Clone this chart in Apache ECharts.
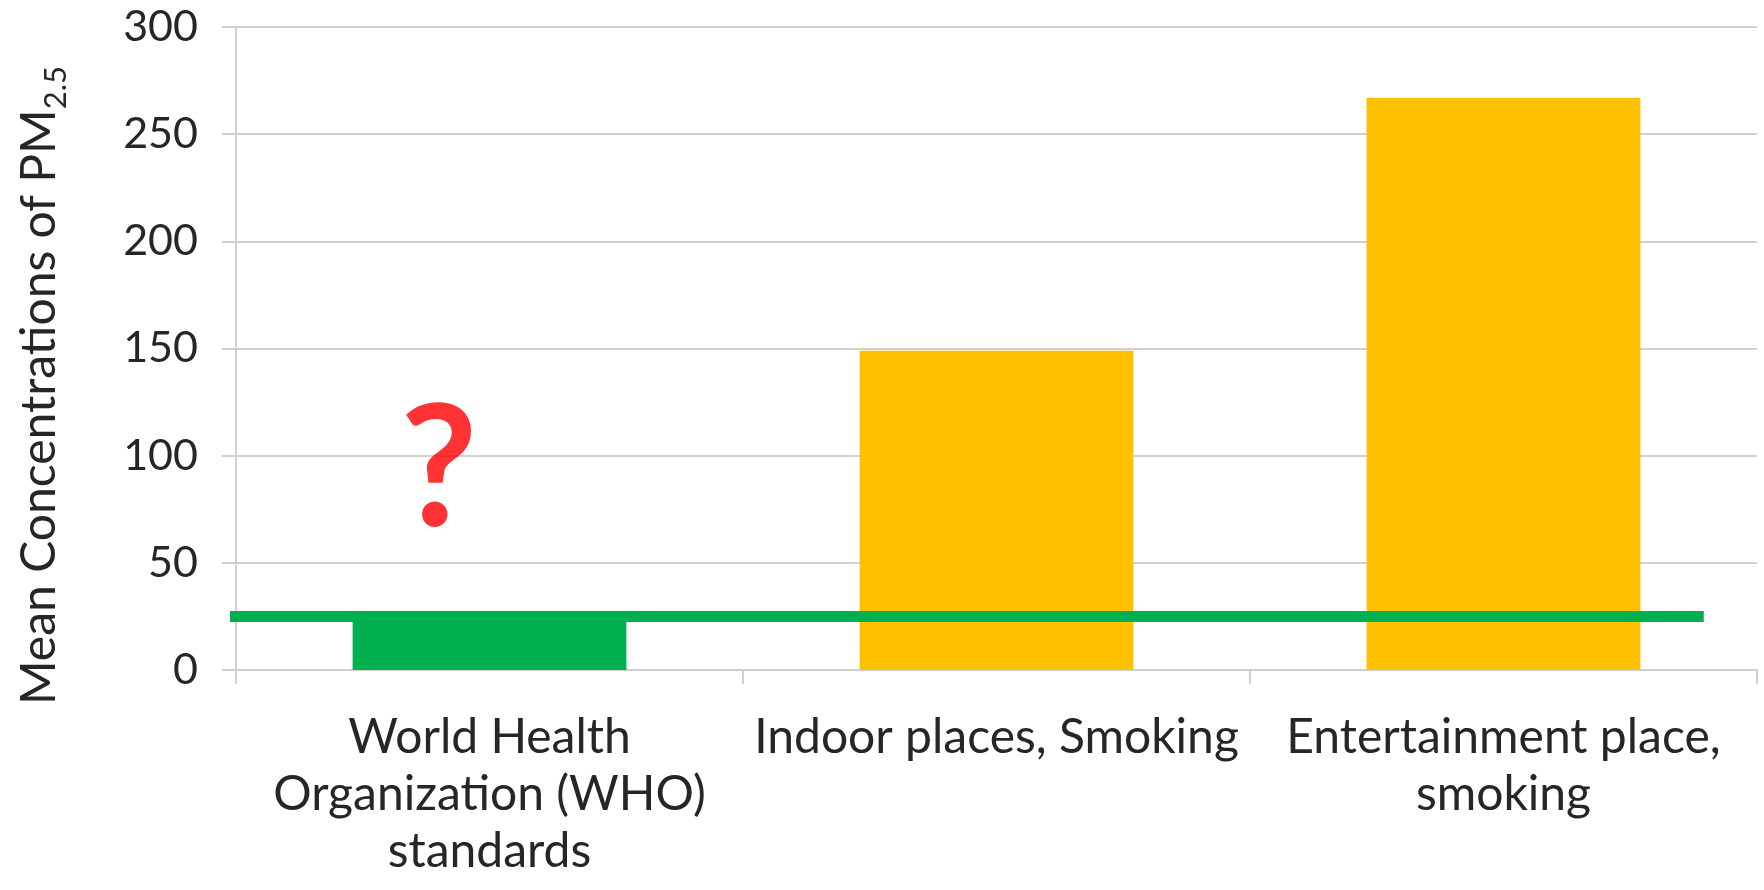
<!DOCTYPE html>
<html>
<head>
<meta charset="utf-8">
<script src="https://cdn.jsdelivr.net/npm/echarts@6/dist/echarts.min.js"></script>
<style>
  html, body { margin: 0; padding: 0; background: #ffffff; }
  #chart { width: 1764px; height: 890px; }
</style>
</head>
<body>
<div id="chart"></div>
<script>
// Mean PM2.5 concentrations by setting, compared with the WHO standard
const categories = [
  'World Health\nOrganization (WHO)\nstandards',
  'Indoor places, Smoking',
  'Entertainment place,\nsmoking'
];
const pm25Values = [25, 149, 267];
const barColors = ['#00B050', '#FFC000', '#FFC000'];

// WHO reference level, drawn as a horizontal line across the chart
const whoLimit = 25;
// horizontal extent of the reference line, in category-width units (0 = first band start)
const whoLineSpan = [-0.085, 2.895];

// value-axis settings
const yMin = 0, yMax = 300, yStep = 50;

// annotation above the WHO bar: [category-width units, value]
const questionMark = { text: '?', at: [0.4, 92.5] };

const FONT = 'Lato';
const TEXT = '#262626';

const chart = echarts.init(document.getElementById('chart'), null, { renderer: 'canvas' });

chart.setOption({
  animation: false,
  backgroundColor: '#ffffff',
  grid: { left: 236, right: 7, top: 27, bottom: 220, containLabel: false },
  xAxis: [
    {
      type: 'category',
      data: categories,
      boundaryGap: true,
      axisLine: { show: true, lineStyle: { color: '#D0D0D0', width: 2 } },
      axisTick: { show: true, length: 14, lineStyle: { color: '#D0D0D0', width: 2 } },
      axisLabel: {
        interval: 0, margin: 39, color: TEXT,
        fontFamily: FONT, fontSize: 48, lineHeight: 57, align: 'center'
      },
      splitLine: { show: false }
    },
    { type: 'value', min: 0, max: 3, show: false }
  ],
  yAxis: {
    type: 'value',
    min: yMin, max: yMax, interval: yStep,
    axisLine: { show: true, lineStyle: { color: '#D0D0D0', width: 2 } },
    axisTick: { show: true, length: 14, lineStyle: { color: '#D0D0D0', width: 2 } },
    axisLabel: { margin: 38, color: TEXT, fontFamily: FONT, fontSize: 43 },
    splitLine: { show: true, lineStyle: { color: '#D0D0D0', width: 2 } },
    name: '{m|Mean Concentrations of PM}{s|2.5}',
    nameLocation: 'middle',
    nameRotate: 90,
    nameGap: 165,
    nameTextStyle: {
      padding: [0, 74, 0, 0],
      rich: {
        m: { fontFamily: FONT, fontSize: 48, color: TEXT, lineHeight: 62 },
        s: { fontFamily: FONT, fontSize: 31, color: TEXT, lineHeight: 31, verticalAlign: 'bottom' }
      }
    }
  },
  series: [
    {
      type: 'bar',
      barWidth: '54%',
      data: pm25Values.map((v, i) => ({ value: v, itemStyle: { color: barColors[i] } })),
      z: 2
    },
    {
      type: 'line',
      xAxisIndex: 1,
      data: [[whoLineSpan[0], whoLimit], [whoLineSpan[1], whoLimit]],
      symbol: 'none',
      clip: false,
      lineStyle: { color: '#00B050', width: 11 },
      z: 5
    },
    {
      type: 'scatter',
      xAxisIndex: 1,
      data: [questionMark.at],
      symbolSize: 0,
      clip: false,
      label: {
        show: true, position: 'inside', formatter: questionMark.text,
        color: '#FF0000', fontFamily: FONT, fontWeight: 'bold', fontSize: 168
      },
      z: 6
    }
  ]
});
</script>
</body>
</html>
